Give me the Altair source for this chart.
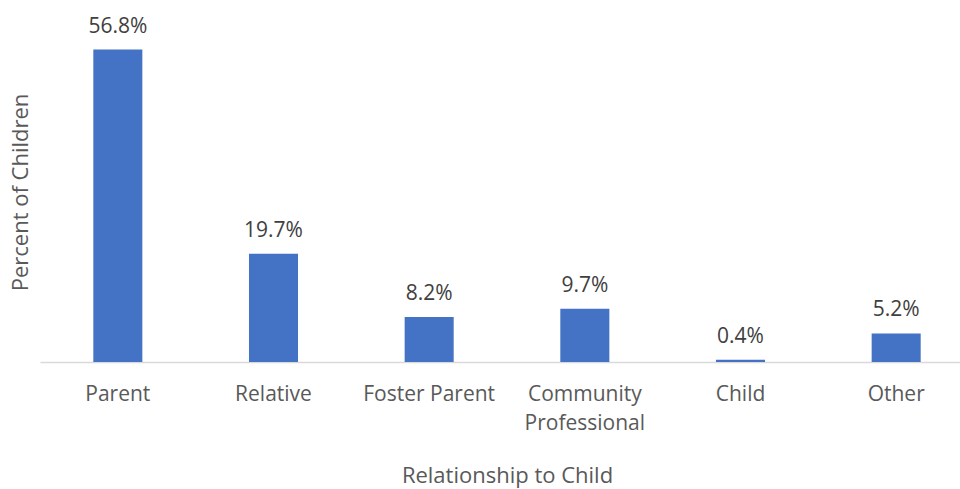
import altair as alt
import pandas as pd

categories = ["Parent", "Relative", "Foster Parent", "Community Professional", "Child", "Other"]
values = [56.8, 19.7, 8.2, 9.7, 0.4, 5.2]

df = pd.DataFrame({"cat": categories, "val": values})
df["label"] = [f"{v:.1f}%" for v in values]

FONT = "Open Sans"

base = alt.Chart(df).encode(
    x=alt.X(
        "cat:N",
        sort=categories,
        scale=alt.Scale(range=[0, 934], paddingInner=0.685, paddingOuter=0.3425),
        axis=alt.Axis(
            title="Relationship to Child",
            labelAngle=0,
            labelFont=FONT,
            labelFontSize=21,
            labelColor="#595959",
            labelPadding=21,
            labelLineHeight=29,
            labelExpr="datum.value == 'Community Professional' ? ['Community', 'Professional'] : datum.value",
            ticks=False,
            domainColor="#d9d9d9",
            domainWidth=1.5,
            titleFont=FONT,
            titleFontSize=22,
            titleFontWeight="normal",
            titleColor="#595959",
            titleX=467,
            titleY=113,
            titleBaseline="middle",
            titleAnchor="middle",
        ),
    ),
    y=alt.Y(
        "val:Q",
        scale=alt.Scale(domain=[0, 60], nice=False),
        axis=alt.Axis(
            title="Percent of Children",
            labels=False,
            ticks=False,
            domain=False,
            grid=False,
            titleFont=FONT,
            titleFontSize=22,
            titleFontWeight="normal",
            titleColor="#595959",
            titleAngle=270,
            titleX=-20,
            titleY=160,
            titleBaseline="middle",
            titleAlign="center",
        ),
    ),
)

bars = base.mark_bar(color="#4472C4")
text = base.mark_text(
    baseline="bottom", dy=-13, font=FONT, fontSize=21, color="#404040"
).encode(text="label:N")

chart = (
    (bars + text)
    .properties(
        width=920,
        height=330,
        background="white",
        autosize=alt.AutoSizeParams(type="none"),
        padding={"left": 40, "top": 32, "right": 0, "bottom": 127},
    )
    .configure_view(strokeWidth=0, stroke="transparent")
)

chart.save("out.html", embed_options={"renderer": "svg", "actions": False})
